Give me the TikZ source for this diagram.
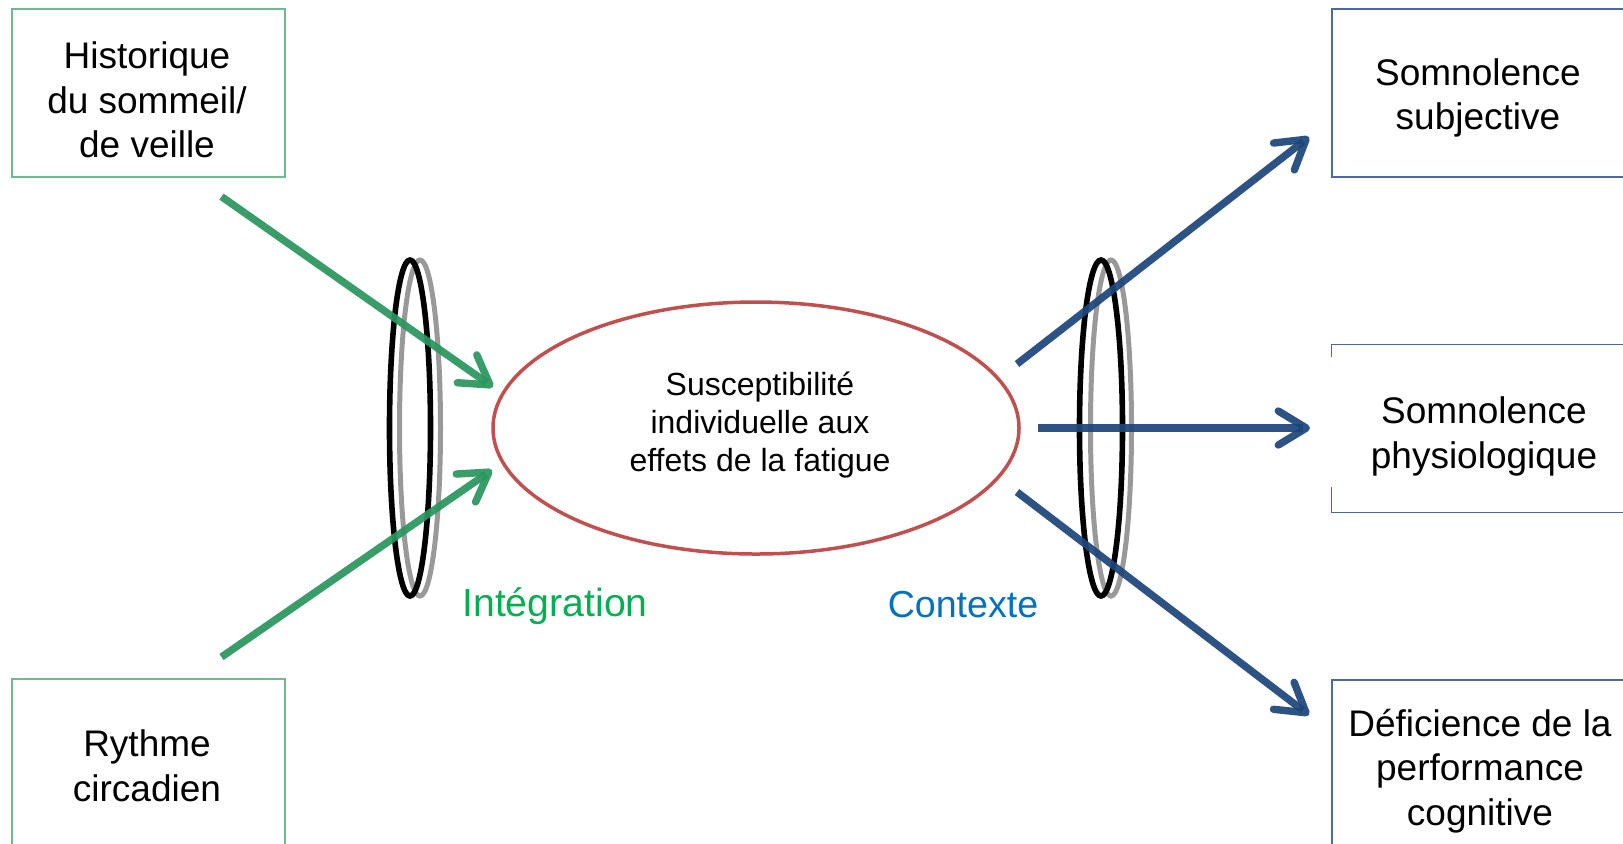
\documentclass[tikz,border=0pt]{standalone}
\usepackage{fontspec}
\setmainfont{Liberation Sans}
\usetikzlibrary{arrows.meta,shapes.geometric}

\definecolor{arrowgreen}{RGB}{42,150,94}
\definecolor{arrowblue}{RGB}{28,70,122}
\definecolor{ellred}{RGB}{192,80,77}
\definecolor{labelgreen}{RGB}{0,176,80}
\definecolor{labelblue}{RGB}{0,112,192}
\definecolor{ringgray}{RGB}{153,153,153}
\definecolor{boxgreen}{RGB}{110,185,145}
\definecolor{boxblue}{RGB}{75,105,155}

\tikzset{
  boxtext/.style={inner sep=0pt, align=center, font=\fontsize{18.5pt}{22.25pt}\selectfont},
  greenbox/.style={draw=boxgreen, line width=0.8pt, inner sep=0pt},
  bluebox/.style={draw=boxblue, line width=0.8pt, inner sep=0pt},
  inarrow/.style={draw=arrowgreen, line width=3.7pt, opacity=0.93,
    -{Straight Barb[length=14pt,width=17pt,round]}},
  outarrow/.style={draw=arrowblue, line width=3.7pt, opacity=0.93,
    -{Straight Barb[length=14pt,width=17pt,round]}},
  blackring/.style={draw=black, line width=2.8pt},
  grayring/.style={draw=ringgray, line width=2.5pt},
  sidelabel/.style={inner sep=0pt}
}

\begin{document}
\begin{tikzpicture}[x=0.5pt,y=-0.5pt]
\useasboundingbox (0,0) rectangle (1623,843);
\clip (0,0) rectangle (1623,843);

% input boxes
\node[greenbox, minimum width=136.5pt, minimum height=84pt] (histbox) at (148.5,93) {};
\node[boxtext] (hist) at (147,100) {Historique\\du sommeil/\\de veille};
\node[greenbox, minimum width=136.5pt, minimum height=87pt] (rythbox) at (148.5,766) {};
\node[boxtext] (ryth) at (147,766) {Rythme\\circadien};

% output boxes
\node[bluebox, minimum width=146pt, minimum height=84pt] (subjbox) at (1478,93) {};
\node[boxtext] (subj) at (1478,98) {Somnolence\\subjective};
\node[inner sep=0pt, minimum width=146pt, minimum height=83.5pt] (physbox) at (1478,428.5) {};
\draw[boxblue, line width=0.8pt]
  ([yshift=-6pt]physbox.north west) -- (physbox.north west) -- (physbox.north east)
  (physbox.south east) -- (physbox.south west) -- ([yshift=12.5pt]physbox.south west);
\node[boxtext] (phys) at (1484,436.5) {Somnolence\\physiologique};
\node[bluebox, minimum width=146pt, minimum height=88pt] (cogbox) at (1478,768) {};
\node[boxtext] (cog) at (1480,771) {Déficience de la\\performance\\cognitive};

% central ellipse
\node[ellipse, draw=ellred, line width=1.75pt, minimum width=263pt, minimum height=126pt, inner sep=0pt] (susc) at (756,428) {};
\node[inner sep=0pt, align=center, font=\fontsize{16pt}{19pt}\selectfont] (susctext) at (760,425)
  {Susceptibilité\\individuelle aux\\effets de la fatigue};

% lens rings
\draw[grayring] (420,428) ellipse [x radius=10.25pt, y radius=84pt];
\draw[blackring] (410,428) ellipse [x radius=10.25pt, y radius=84pt];
\draw[grayring] (1111,428) ellipse [x radius=10.25pt, y radius=84pt];
\draw[blackring] (1101,428) ellipse [x radius=10.75pt, y radius=84pt];

% arrow end points
\coordinate (histout) at (221.5,196.6);
\coordinate (histin) at (493,387);
\coordinate (rythout) at (221.5,657);
\coordinate (rythin) at (492,470);
\coordinate (outa) at (1017,364);
\coordinate (outb) at (1038,428);
\coordinate (outc) at (1017,492);
\coordinate (subjin) at (1309,137);
\coordinate (physin) at (1310,428);
\coordinate (cogin) at (1309,715);

\draw[inarrow] (histout) -- (histin);
\draw[inarrow] (rythout) -- (rythin);
\draw[outarrow] (outa) -- (subjin);
\draw[outarrow] (outb) -- (physin);
\draw[outarrow] (outc) -- (cogin);

% labels
\node[sidelabel, text=labelgreen, font=\fontsize{19.6pt}{22pt}\selectfont] (integ) at (555,606) {Intégration};
\node[sidelabel, text=labelblue, font=\fontsize{18.8pt}{22pt}\selectfont] (ctx) at (963,605) {Contexte};
\end{tikzpicture}
\end{document}
